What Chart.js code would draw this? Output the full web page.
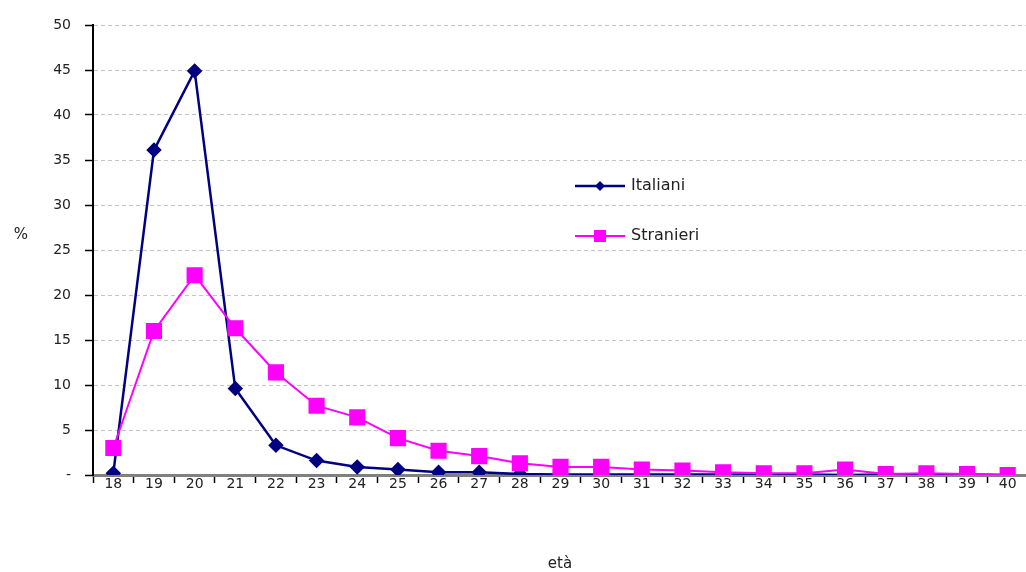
<!DOCTYPE html>
<html>
<head>
<meta charset="utf-8">
<script src="https://cdn.jsdelivr.net/npm/chart.js@4"></script>
<style>
  html, body { margin: 0; padding: 0; background: #fff; overflow: hidden; }
  #wrap { width: 1040px; height: 572px; }
</style>
</head>
<body>
<div id="wrap"><canvas id="ageChart" width="1040" height="572"></canvas></div>
<script>
const ages = ["18", "19", "20", "21", "22", "23", "24", "25", "26", "27", "28", "29",
  "30", "31", "32", "33", "34", "35", "36", "37", "38", "39", "40"];
const italiani = [0.2, 36.1, 44.9, 9.6, 3.3, 1.6, 0.9, 0.6, 0.3, 0.3, 0.1, 0.05,
  0.05, 0.05, 0.05, 0.05, 0.05, 0.05, 0, 0.05, 0.05, 0.05, 0];
const stranieri = [3.0, 16.0, 22.2, 16.3, 11.4, 7.7, 6.4, 4.1, 2.7, 2.1, 1.3, 0.9,
  0.9, 0.6, 0.5, 0.3, 0.2, 0.2, 0.6, 0.1, 0.2, 0.1, 0];
const yTicks = [0, 5, 10, 15, 20, 25, 30, 35, 40, 45, 50];

const NAVY = "#000080";
const PINK = "#ff00ff";
const FONT = "'DejaVu Sans', sans-serif";

// legend, "%" and "età" drawn by hand like the original
const extras = {
  id: "extras",
  afterDraw(chart) {
    const ctx = chart.ctx;
    ctx.save();
    ctx.setLineDash([]);
    ctx.fillStyle = "#222";
    ctx.font = "15px " + FONT;
    ctx.textAlign = "center";
    ctx.textBaseline = "middle";
    ctx.fillText("%", 21, 235);
    ctx.fillText("età", 560, 564);

    const items = [
      { label: "Italiani", color: NAVY, y: 186, width: 2.5 },
      { label: "Stranieri", color: PINK, y: 236, width: 2 }
    ];
    items.forEach((it, i) => {
      ctx.strokeStyle = it.color;
      ctx.lineWidth = it.width;
      ctx.beginPath();
      ctx.moveTo(575, it.y);
      ctx.lineTo(625, it.y);
      ctx.stroke();
      ctx.fillStyle = it.color;
      ctx.beginPath();
      if (i === 0) {
        ctx.moveTo(600, it.y - 5);
        ctx.lineTo(605, it.y);
        ctx.lineTo(600, it.y + 5);
        ctx.lineTo(595, it.y);
        ctx.closePath();
      } else {
        ctx.rect(594, it.y - 6, 12, 12);
      }
      ctx.fill();
      ctx.fillStyle = "#222";
      ctx.textAlign = "left";
      ctx.font = "16px " + FONT;
      ctx.fillText(it.label, 631, it.y);
    });
    ctx.restore();
  }
};

new Chart(document.getElementById("ageChart"), {
  type: "line",
  data: {
    labels: ages,
    datasets: [
      {
        label: "Stranieri",
        data: stranieri,
        borderColor: PINK,
        backgroundColor: PINK,
        borderWidth: 2,
        pointStyle: "rect",
        pointRadius: 10,
        pointHoverRadius: 10,
        tension: 0
      },
      {
        label: "Italiani",
        data: italiani,
        borderColor: NAVY,
        backgroundColor: NAVY,
        borderWidth: 2.5,
        pointStyle: "rectRot",
        pointRadius: 6,
        pointHoverRadius: 6,
        tension: 0
      }
    ]
  },
  options: {
    responsive: false,
    animation: false,
    layout: { padding: { top: 25, right: 2, left: 0, bottom: 0 } },
    plugins: {
      legend: { display: false },
      tooltip: { enabled: false }
    },
    scales: {
      x: {
        offset: true,
        grid: {
          offset: true,
          drawOnChartArea: false,
          drawTicks: true,
          tickLength: 8,
          tickColor: "#000",
          tickWidth: 1.5
        },
        border: { display: true, color: "#808080", width: 3 },
        ticks: {
          padding: -7,
          color: "#222",
          font: { family: FONT, size: 14 },
          maxRotation: 0,
          autoSkip: false
        },
        afterFit(scale) { scale.height = 97; }
      },
      y: {
        min: 0,
        max: 50,
        afterBuildTicks(scale) { scale.ticks = yTicks.map(v => ({ value: v })); },
        grid: {
          color: "#c4c4c4",
          lineWidth: 1,
          tickColor: "#000",
          tickLength: 8,
          tickBorderDash: [],
          tickWidth: 1.5
        },
        border: { display: true, color: "#000", width: 2, dash: [4, 3] },
        ticks: {
          padding: 14,
          color: "#222",
          font: { family: FONT, size: 14 },
          callback: v => (v === 0 ? "-" : String(v))
        },
        afterFit(scale) { scale.width = 93; }
      }
    }
  },
  plugins: [extras]
});
</script>
</body>
</html>
